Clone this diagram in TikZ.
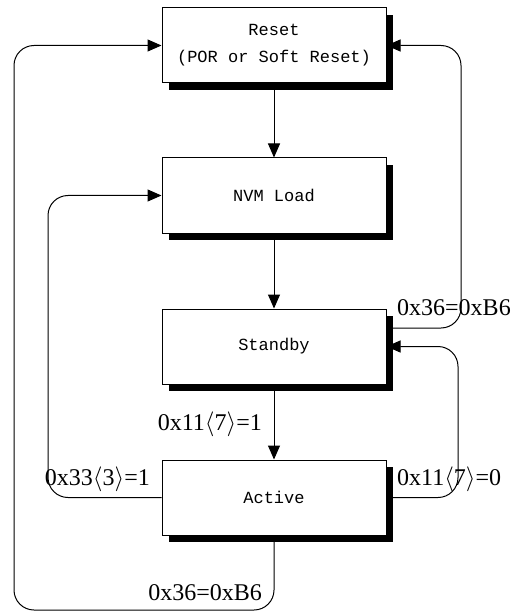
\documentclass[tikz,border=0pt]{standalone}
\usepackage{fontspec}
\setmainfont{Liberation Serif}
\newfontfamily\boxfont{Liberation Mono}
\usetikzlibrary{arrows.meta,shadows,calc}
\begin{document}
\begin{tikzpicture}[x=1pt,y=-1pt,
  state/.style={draw,line width=1pt,fill=white,minimum width=224pt,minimum height=75pt,
    align=center,font=\boxfont\fontsize{17}{27}\selectfont,
    drop shadow={shadow xshift=7pt,shadow yshift=-7pt,fill=black,opacity=1}},
  cond/.style={inner sep=0pt,font=\fontsize{24}{24}\selectfont},
  link/.style={line width=1pt,rounded corners=20pt,-{Triangle[length=14pt,width=12pt]}}]
  \useasboundingbox (0,0) rectangle (527,612);
  % states
  \node[state] (reset) at (274,45.5) {Reset\\(POR or Soft Reset)};
  \node[state] (nvm) at (274,195.5) {NVM Load};
  \node[state] (standby) at (274,346.5) {Standby};
  \node[state] (active) at (274,497.5) {Active};
  % loop corners
  \coordinate (lo) at (14,610);
  \coordinate (li) at (48,0);
  \coordinate (ro) at (461,0);
  \coordinate (ri) at (458,0);
  \coordinate (sbout) at ($(standby.east)+(0,-18.5)$);
  % transitions
  \draw[link] (reset.south) -- (nvm.north);
  \draw[link] (nvm.south) -- (standby.north);
  \draw[link] (standby.south) -- (active.north);
  \draw[link] (active.south) -- (active.south |- lo) -- (lo) -- (lo |- reset.west) -- (reset.west);
  \draw[link] (active.west) -- (li |- active.west) -- (li |- nvm.west) -- (nvm.west);
  \draw[link] (sbout) -- (ro |- sbout) -- (ro |- reset.east) -- (reset.east);
  \draw[link] (active.east) -- (ri |- active.east) -- (ri |- standby.east) -- (standby.east);
  % conditions
  \node[cond,anchor=base west] (sbreset) at (397,315.5) {0x36=0xB6};
  \node[cond,anchor=base east] (sbact) at (262,430.5) {0x11$\langle$7$\rangle$=1};
  \node[cond,anchor=base east] (actnvm) at (150,485.5) {0x33$\langle$3$\rangle$=1};
  \node[cond,anchor=base west] (actsb) at (397,485.5) {0x11$\langle$7$\rangle$=0};
  \node[cond,anchor=base east] (actreset) at (262,600) {0x36=0xB6};
\end{tikzpicture}
\end{document}
